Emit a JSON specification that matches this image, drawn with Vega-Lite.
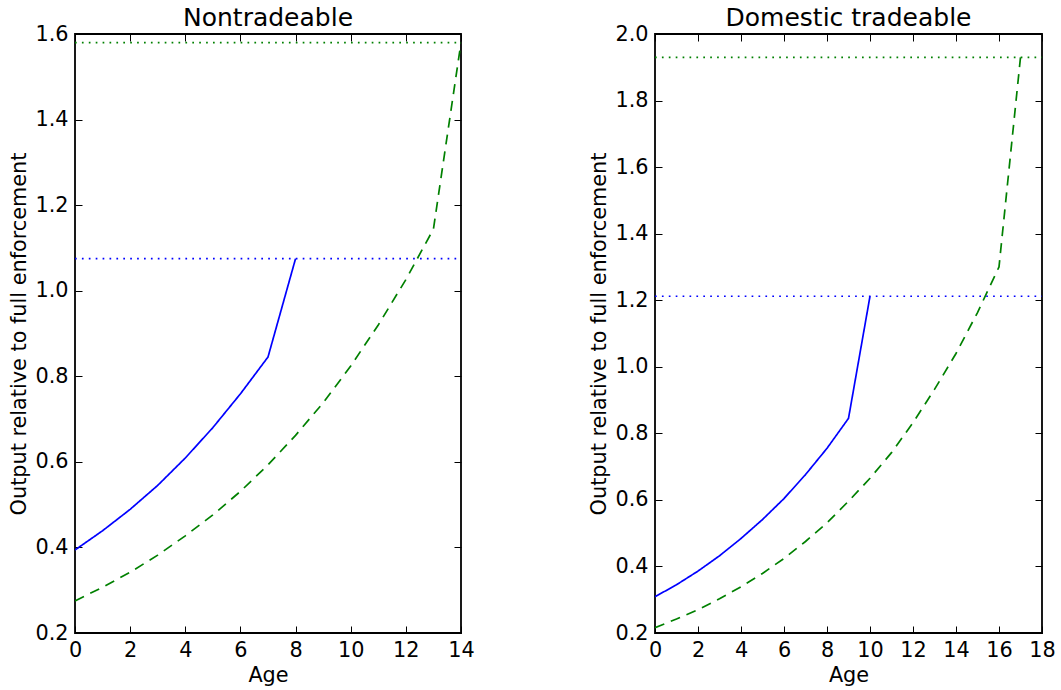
{
  "$schema": "https://vega.github.io/schema/vega-lite/v6.json",
  "padding": {"left": 8, "top": 5, "right": 5, "bottom": 5},
  "datasets": {
    "nt": [
      {"series": "a", "age": 0, "value": 0.394},
      {"series": "a", "age": 1, "value": 0.439},
      {"series": "a", "age": 2, "value": 0.489},
      {"series": "a", "age": 3, "value": 0.545},
      {"series": "a", "age": 4, "value": 0.609},
      {"series": "a", "age": 5, "value": 0.680},
      {"series": "a", "age": 6, "value": 0.759},
      {"series": "a", "age": 7, "value": 0.845},
      {"series": "a", "age": 8, "value": 1.075},
      {"series": "b", "age": 0, "value": 0.275},
      {"series": "b", "age": 1, "value": 0.307},
      {"series": "b", "age": 2, "value": 0.342},
      {"series": "b", "age": 3, "value": 0.382},
      {"series": "b", "age": 4, "value": 0.427},
      {"series": "b", "age": 5, "value": 0.476},
      {"series": "b", "age": 6, "value": 0.531},
      {"series": "b", "age": 7, "value": 0.593},
      {"series": "b", "age": 8, "value": 0.662},
      {"series": "b", "age": 9, "value": 0.738},
      {"series": "b", "age": 10, "value": 0.824},
      {"series": "b", "age": 11, "value": 0.920},
      {"series": "b", "age": 12, "value": 1.026},
      {"series": "b", "age": 13, "value": 1.144},
      {"series": "b", "age": 14, "value": 1.580},
      {"series": "c", "age": 0, "value": 1.075},
      {"series": "c", "age": 14, "value": 1.075},
      {"series": "d", "age": 0, "value": 1.580},
      {"series": "d", "age": 14, "value": 1.580}
    ],
    "dt": [
      {"series": "a", "age": 0, "value": 0.309},
      {"series": "a", "age": 1, "value": 0.345},
      {"series": "a", "age": 2, "value": 0.386},
      {"series": "a", "age": 3, "value": 0.432},
      {"series": "a", "age": 4, "value": 0.484},
      {"series": "a", "age": 5, "value": 0.541},
      {"series": "a", "age": 6, "value": 0.604},
      {"series": "a", "age": 7, "value": 0.676},
      {"series": "a", "age": 8, "value": 0.755},
      {"series": "a", "age": 9, "value": 0.845},
      {"series": "a", "age": 10, "value": 1.212},
      {"series": "b", "age": 0, "value": 0.216},
      {"series": "b", "age": 1, "value": 0.242},
      {"series": "b", "age": 2, "value": 0.270},
      {"series": "b", "age": 3, "value": 0.303},
      {"series": "b", "age": 4, "value": 0.339},
      {"series": "b", "age": 5, "value": 0.379},
      {"series": "b", "age": 6, "value": 0.424},
      {"series": "b", "age": 7, "value": 0.475},
      {"series": "b", "age": 8, "value": 0.531},
      {"series": "b", "age": 9, "value": 0.596},
      {"series": "b", "age": 10, "value": 0.665},
      {"series": "b", "age": 11, "value": 0.742},
      {"series": "b", "age": 12, "value": 0.832},
      {"series": "b", "age": 13, "value": 0.932},
      {"series": "b", "age": 14, "value": 1.040},
      {"series": "b", "age": 15, "value": 1.163},
      {"series": "b", "age": 16, "value": 1.300},
      {"series": "b", "age": 17, "value": 1.930},
      {"series": "c", "age": 0, "value": 1.212},
      {"series": "c", "age": 18, "value": 1.212},
      {"series": "d", "age": 0, "value": 1.930},
      {"series": "d", "age": 18, "value": 1.930}
    ]
  },
  "config": {
    "font": "DejaVu Sans",
    "view": {"stroke": "black", "strokeWidth": 1.8},
    "axis": {
      "grid": false, "domain": false, "tickColor": "black", "tickSize": -7, "tickWidth": 1,
      "labelFont": "DejaVu Sans", "labelFontSize": 20.8, "labelColor": "black", "labelPadding": 14,
      "labelFlush": false, "labelOverlap": false, "labelBound": false,
      "titleFont": "DejaVu Sans", "titleFontSize": 20.8, "titleFontWeight": "normal", "titleColor": "black"
    },
    "title": {"font": "DejaVu Sans", "fontSize": 25, "fontWeight": "normal", "color": "black", "offset": -8, "anchor": "middle", "frame": "group"}
  },
  "bounds": "flush",
  "spacing": 194,
  "hconcat": [
    {
      "title": "Nontradeable",
      "width": 386, "height": 599,
      "data": {"name": "nt"},
      "resolve": {"axis": {"x": "independent", "y": "independent"}},
      "layer": [
        {
          "transform": [{"filter": "datum.series == 'a' || datum.series == 'b'"}],
          "mark": {"type": "line", "strokeWidth": 1.7, "clip": true},
          "encoding": {
            "x": {"field": "age", "type": "quantitative", "scale": {"domain": [0, 14], "nice": false, "zero": false},
                  "axis": {"title": "Age", "values": [0, 2, 4, 6, 8, 10, 12, 14], "format": "d", "titlePadding": 6}},
            "y": {"field": "value", "type": "quantitative", "scale": {"domain": [0.2, 1.6], "nice": false, "zero": false},
                  "axis": {"title": "Output relative to full enforcement", "values": [0.2, 0.4, 0.6, 0.8, 1.0, 1.2, 1.4, 1.6], "format": ".1f", "titlePadding": 5}},
            "color": {"field": "series", "type": "nominal", "legend": null,
                      "scale": {"domain": ["a", "b", "c", "d"], "range": ["#0000ff", "#008000", "#0000ff", "#008000"]}},
            "strokeDash": {"field": "series", "type": "nominal", "legend": null,
                      "scale": {"domain": ["a", "b", "c", "d"], "range": [[1, 0], [10, 7], [1.7, 5.2], [1.7, 5.2]]}}
          }
        },
        {
          "transform": [{"filter": "datum.series == 'c' || datum.series == 'd'"}],
          "mark": {"type": "line", "strokeWidth": 1.7, "clip": true},
          "encoding": {
            "x": {"field": "age", "type": "quantitative",
                  "axis": {"orient": "top", "title": null, "labels": false, "values": [0, 2, 4, 6, 8, 10, 12, 14]}},
            "y": {"field": "value", "type": "quantitative",
                  "axis": {"orient": "right", "title": null, "labels": false, "values": [0.2, 0.4, 0.6, 0.8, 1.0, 1.2, 1.4, 1.6]}},
            "color": {"field": "series", "type": "nominal", "legend": null},
            "strokeDash": {"field": "series", "type": "nominal", "legend": null}
          }
        }
      ]
    },
    {
      "title": "Domestic tradeable",
      "width": 387, "height": 599,
      "data": {"name": "dt"},
      "resolve": {"axis": {"x": "independent", "y": "independent"}},
      "layer": [
        {
          "transform": [{"filter": "datum.series == 'a' || datum.series == 'b'"}],
          "mark": {"type": "line", "strokeWidth": 1.7, "clip": true},
          "encoding": {
            "x": {"field": "age", "type": "quantitative", "scale": {"domain": [0, 18], "nice": false, "zero": false},
                  "axis": {"title": "Age", "values": [0, 2, 4, 6, 8, 10, 12, 14, 16, 18], "format": "d", "titlePadding": 6}},
            "y": {"field": "value", "type": "quantitative", "scale": {"domain": [0.2, 2.0], "nice": false, "zero": false},
                  "axis": {"title": "Output relative to full enforcement", "values": [0.2, 0.4, 0.6, 0.8, 1.0, 1.2, 1.4, 1.6, 1.8, 2.0], "format": ".1f", "titlePadding": 5}},
            "color": {"field": "series", "type": "nominal", "legend": null,
                      "scale": {"domain": ["a", "b", "c", "d"], "range": ["#0000ff", "#008000", "#0000ff", "#008000"]}},
            "strokeDash": {"field": "series", "type": "nominal", "legend": null,
                      "scale": {"domain": ["a", "b", "c", "d"], "range": [[1, 0], [10, 7], [1.7, 5.2], [1.7, 5.2]]}}
          }
        },
        {
          "transform": [{"filter": "datum.series == 'c' || datum.series == 'd'"}],
          "mark": {"type": "line", "strokeWidth": 1.7, "clip": true},
          "encoding": {
            "x": {"field": "age", "type": "quantitative",
                  "axis": {"orient": "top", "title": null, "labels": false, "values": [0, 2, 4, 6, 8, 10, 12, 14, 16, 18]}},
            "y": {"field": "value", "type": "quantitative",
                  "axis": {"orient": "right", "title": null, "labels": false, "values": [0.2, 0.4, 0.6, 0.8, 1.0, 1.2, 1.4, 1.6, 1.8, 2.0]}},
            "color": {"field": "series", "type": "nominal", "legend": null},
            "strokeDash": {"field": "series", "type": "nominal", "legend": null}
          }
        }
      ]
    }
  ]
}
